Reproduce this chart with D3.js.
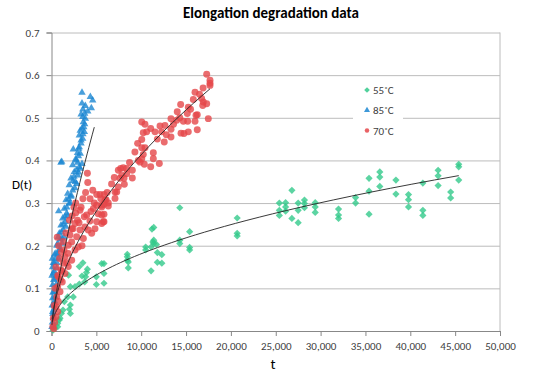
<!DOCTYPE html>
<html>
<head>
<meta charset="utf-8">
<script src="https://cdn.jsdelivr.net/npm/d3@7"></script>
<style>
  body { margin: 0; background: #fff; }
  svg { font-family: Carlito, Calibri, Lato, sans-serif; }
</style>
</head>
<body>
<svg id="chart"></svg>
<script>
// 55°C points [t, D(t)]
const s55 = [
  [170,0.002],[390,0.007],[690,0.010],[690,0.018],[870,0.026],[950,0.030],[1100,0.041],[2100,0.041],
  [1280,0.049],[2000,0.051],[2100,0.061],[1430,0.069],[1800,0.080],[2430,0.080],[2100,0.104],[2620,0.104],
  [3100,0.110],[3700,0.115],[1900,0.131],[3400,0.129],[3800,0.127],[5000,0.127],[3900,0.137],[4000,0.145],
  [3100,0.151],[3500,0.160],[5000,0.109],[5600,0.158],
  [5850,0.158],[5850,0.135],[5850,0.112],[8450,0.180],[8450,0.174],[8450,0.166],[8560,0.162],[8560,0.148],
  [10500,0.197],[10500,0.190],[11100,0.197],[11100,0.141],[11200,0.239],[11400,0.243],[11300,0.209],
  [11400,0.213],[11400,0.205],[11700,0.203],[11800,0.184],[11800,0.161],[12300,0.179],[12300,0.159],
  [14300,0.289],[14300,0.213],[14300,0.205],[15400,0.233],[15400,0.196],[15400,0.190],
  [20700,0.265],[20700,0.229],[20700,0.223],
  [25400,0.300],[25400,0.283],[25400,0.271],[26100,0.301],[26100,0.291],[26100,0.281],[26800,0.330],
  [26800,0.264],[27500,0.300],[27500,0.283],[27500,0.254],[28200,0.307],[28200,0.299],[28200,0.289],
  [29400,0.301],[29400,0.291],[29400,0.278],[32000,0.286],[32000,0.272],[32000,0.264],[33900,0.313],
  [33900,0.300],[35400,0.358],[35400,0.328],[35400,0.274],[36600,0.373],[36600,0.361],[36600,0.339],
  [38400,0.354],[38400,0.321],[39800,0.320],[39800,0.308],[39800,0.291],[41400,0.347],[41400,0.283],
  [41400,0.271],[43100,0.377],[43100,0.364],[43100,0.341],[44500,0.326],[44500,0.312],[45400,0.391],
  [45400,0.385],[45400,0.354]
];

// 85°C points
const s85 = [
  [3400,0.559],[4330,0.549],[4590,0.541],[3770,0.528],[4040,0.515],[4440,0.523],[3480,0.502],[3770,0.498],
  [3550,0.490],[3400,0.475],[3660,0.467],[3100,0.459],[3480,0.451],[3290,0.440],[3030,0.428],[3210,0.416],
  [2730,0.400],[2920,0.395],[1060,0.395],[2360,0.389],[3100,0.385],[2540,0.373],[2920,0.365],[2170,0.358],
  [2650,0.350],[1980,0.342],[2360,0.330],[1800,0.322],[2170,0.315],[1620,0.307],[1980,0.299],[800,0.281],
  [1430,0.287],[1690,0.276],[1250,0.264],[1540,0.256],[1060,0.248],[1320,0.237],[870,0.229],[1170,0.217],
  [690,0.205],[950,0.194],[500,0.182],[800,0.170],[310,0.159],[580,0.147],[200,0.135],[420,0.123],
  [130,0.108],[310,0.092],[130,0.077],[200,0.061],[130,0.045],[200,0.030],[2430,0.426],[1140,0.397],
  [2600,0.335],[2800,0.345],[3000,0.372],[3200,0.381],[3400,0.392],[2500,0.362],[2700,0.403],[2900,0.418],
  [3100,0.431],[3300,0.447],[3500,0.462],[3600,0.478],[3700,0.485],[3300,0.508],[3500,0.520],[3400,0.534],
  [2200,0.318],[2400,0.352],[2800,0.378],[3000,0.410],[3200,0.470],[3700,0.510],
  [1000,0.215],[1100,0.232],[1300,0.250],[1500,0.268],[1700,0.290],[1900,0.310],[2100,0.300],[1400,0.220],
  [1600,0.245],[900,0.190],[1200,0.205],[1800,0.270],
  [100,0.020],[250,0.050],[350,0.070],[150,0.090],[400,0.100],[500,0.130],[600,0.160],[300,0.140],
  [450,0.170],[700,0.180],[200,0.160],[350,0.180],[100,0.170],[250,0.120],[550,0.110],[400,0.080],
  [150,0.040],[600,0.200],[750,0.220],[50,0.010],[80,0.060],[60,0.130],[120,0.150]
];

// 70°C points
const s70 = [
  [17300,0.602],[17670,0.588],[17670,0.581],[17670,0.576],[16000,0.560],[15810,0.543],[16740,0.545],
  [16920,0.537],[17300,0.533],[16860,0.529],[14400,0.531],[15250,0.525],[14020,0.514],[15140,0.510],
  [16110,0.506],[16250,0.507],[17480,0.498],[13320,0.498],[13960,0.494],[14700,0.492],[15180,0.492],
  [16000,0.492],[10060,0.490],[10420,0.485],[12650,0.482],[12100,0.481],[11060,0.475],[11540,0.467],
  [10230,0.465],[10610,0.467],[12280,0.467],[13320,0.473],[16250,0.472],[14440,0.464],[14770,0.463],
  [15250,0.467],[13320,0.455],[10060,0.449],[12570,0.443],[10060,0.430],[10420,0.430],[11350,0.418],
  [10230,0.414],[10060,0.404],[11350,0.404],[9680,0.400],[9870,0.396],[10350,0.391],[11060,0.385],
  [12020,0.393],[7450,0.377],[7710,0.381],[8000,0.383],[8380,0.381],[7830,0.365],[8380,0.369],
  [9010,0.377],[9010,0.359],[8080,0.358],[7640,0.358],[8120,0.344],[7450,0.338],[7080,0.326],
  [7270,0.326],[7080,0.311],[5850,0.320],[6080,0.308],[6330,0.300],[5850,0.297],[5600,0.291],
  [5850,0.274],[5600,0.272],[5850,0.256],[5600,0.252],
  [4040,0.348],[5040,0.320],[5410,0.320],[5960,0.307],[4770,0.300],[5040,0.295],[5600,0.295],[6330,0.293],
  [4660,0.287],[3180,0.283],[2700,0.277],[3660,0.268],[3920,0.272],[4290,0.258],[5040,0.256],[5770,0.256],
  [3070,0.254],[2620,0.252],[3730,0.244],[4100,0.237],[4850,0.240],[4480,0.229],[3180,0.237],[2250,0.240],
  [2060,0.225],[2810,0.221],[3550,0.217],[2250,0.209],[1870,0.201],[2990,0.197],[2620,0.190],[1870,0.182],
  [1500,0.174],[2250,0.166],[1320,0.159],[1870,0.151],[1060,0.143],[1500,0.135],[760,0.127],[1200,0.115],
  [690,0.104],[950,0.092],[580,0.080],[760,0.069],[500,0.057],[690,0.045],[500,0.033],
  [640,0.220],[800,0.200],[900,0.170],[500,0.150],[700,0.130],[400,0.100],[300,0.060],[200,0.030],
  [350,0.020],[150,0.010],[250,0.005],[1100,0.185],[1300,0.210],[1600,0.230],[1400,0.190],[1700,0.160],
  [1000,0.120],[1200,0.140],[2000,0.260],[2300,0.270],[2500,0.290],[2700,0.300],[2400,0.240],[2900,0.260],
  [3300,0.290],[3500,0.310],[3800,0.325],[4300,0.310],[4600,0.330],[5200,0.275],[5500,0.310],[6200,0.325],
  [6700,0.345],[7000,0.360],[8700,0.395],[9300,0.420],[9600,0.440],[11800,0.450],[12800,0.460],
  [13600,0.485],[14300,0.500],[15500,0.520],[16500,0.555],[16900,0.570],[4000,0.370],[3400,0.200],[4400,0.280]
];

// power trendlines D = a * t^b
const fits = [
  { a: 0.00257, b: 0.462, t0: 100, t1: 45400 },
  { a: 0.000703, b: 0.77, t0: 50, t1: 4770 },
  { a: 0.002423, b: 0.558, t0: 80, t1: 17670 }
];

const labels = ['55˚C', '85˚C', '70˚C'];
const colors = ['#33c98b', '#1c87d2', '#e5474a'];
const xTicks = d3.range(0, 50001, 5000);
const yTicks = d3.range(0, 0.71, 0.1);

const W = 541, H = 372;
const svg = d3.select('#chart').attr('width', W).attr('height', H);
svg.append('rect').attr('width', W).attr('height', H).attr('fill', '#fff');

const x = d3.scaleLinear().domain([0, 50000]).range([51.5, 500]);
const y = d3.scaleLinear().domain([0, 0.7]).range([331, 32.5]);

// gridlines
svg.append('g')
  .attr('transform', `translate(${x(0)},0)`)
  .call(d3.axisLeft(y).tickValues(yTicks.slice(1)).tickSize(-(x(50000) - x(0))).tickFormat(''))
  .call(g => g.select('.domain').remove())
  .call(g => g.selectAll('line').attr('stroke', '#bcbcbc'));

// right border
svg.append('line')
  .attr('x1', x(50000)).attr('x2', x(50000))
  .attr('y1', y(0.7)).attr('y2', y(0))
  .attr('stroke', '#bcbcbc');

// y axis
svg.append('g')
  .attr('transform', `translate(${x(0)},0)`)
  .call(d3.axisLeft(y).tickValues(yTicks).tickSize(5).tickPadding(7)
    .tickFormat(d => d < 1e-9 ? '0' : d3.format('.1f')(d)))
  .call(g => g.select('.domain').attr('stroke', '#888'))
  .call(g => g.selectAll('line').attr('stroke', '#888'))
  .call(g => g.selectAll('text').attr('font-size', 11).attr('fill', '#404040').attr('font-family', 'Carlito, Calibri, Lato, sans-serif'));

// x axis
svg.append('g')
  .attr('transform', `translate(0,${y(0)})`)
  .call(d3.axisBottom(x).tickValues(xTicks).tickSize(5).tickPadding(6).tickFormat(d3.format(',')))
  .call(g => g.select('.domain').attr('stroke', '#888'))
  .call(g => g.selectAll('line').attr('stroke', '#888'))
  .call(g => g.selectAll('text').attr('font-size', 11).attr('fill', '#404040').attr('font-family', 'Carlito, Calibri, Lato, sans-serif'));

// points
const shapes = [
  d3.symbol().type(d3.symbolSquare).size(26),
  d3.symbol().type(d3.symbolTriangle).size(24),
  d3.symbol().type(d3.symbolCircle).size(38)
];
const rot = [45, 0, 0];

[s55, s85, s70].forEach((s, i) => {
  svg.append('g').selectAll('path')
    .data(s)
    .join('path')
    .attr('d', shapes[i])
    .attr('transform', d => `translate(${x(d[0])},${y(d[1])}) rotate(${rot[i]})`)
    .attr('fill', colors[i])
    .attr('fill-opacity', 0.8);
});

// trendlines
const line = d3.line().x(d => x(d[0])).y(d => y(d[1]));
fits.forEach(f => {
  const ts = d3.range(0, 101).map(k => f.t0 * Math.pow(f.t1 / f.t0, k / 100));
  svg.append('path')
    .datum(ts.map(t => [t, f.a * Math.pow(t, f.b)]))
    .attr('fill', 'none')
    .attr('stroke', '#222')
    .attr('stroke-width', 0.9)
    .attr('d', line);
});

// legend
const lg = svg.append('g');
lg.append('rect').attr('x', 353).attr('y', 79).attr('width', 50).attr('height', 62).attr('fill', '#fff');
labels.forEach((lab, i) => {
  const ly = 90 + i * 20.3;
  lg.append('path')
    .attr('d', d3.symbol().type([d3.symbolSquare, d3.symbolTriangle, d3.symbolCircle][i]).size(16))
    .attr('transform', `translate(367,${ly}) rotate(${rot[i]})`)
    .attr('fill', colors[i]).attr('fill-opacity', 0.85);
  lg.append('text')
    .attr('x', 373).attr('y', ly + 4)
    .attr('font-size', 11).attr('fill', '#404040')
    .text(lab);
});

// titles
svg.append('text')
  .attr('x', 271).attr('y', 18)
  .attr('text-anchor', 'middle')
  .attr('font-size', 15).attr('font-weight', 'bold')
  .text('Elongation degradation data');

svg.append('text')
  .attr('x', 273).attr('y', 369)
  .attr('text-anchor', 'middle')
  .attr('font-size', 15)
  .text('t');

svg.append('text')
  .attr('x', 22).attr('y', 189)
  .attr('text-anchor', 'middle')
  .attr('font-size', 13)
  .text('D(t)');
</script>
</body>
</html>
